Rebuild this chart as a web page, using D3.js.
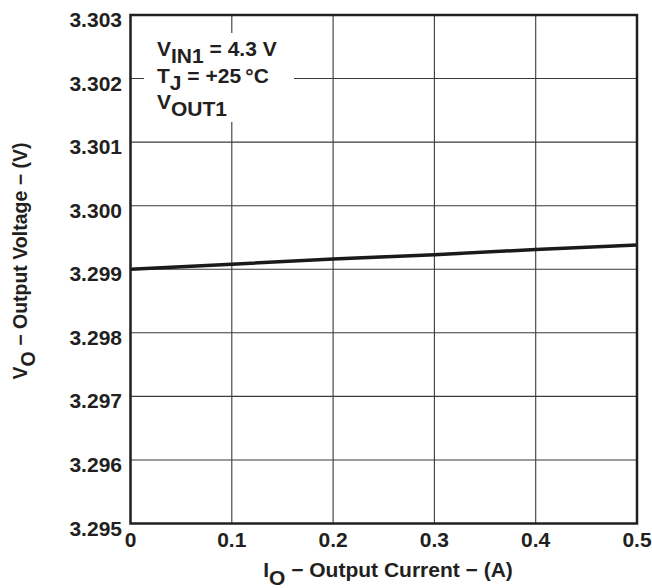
<!DOCTYPE html>
<html><head><meta charset="utf-8">
<script src="https://cdn.jsdelivr.net/npm/d3@7"></script>
<style>
html,body{margin:0;padding:0;background:#fff;}
svg text{font-family:"Liberation Sans",Arial,Helvetica,sans-serif;font-weight:bold;fill:#231f20;}
</style></head>
<body>
<svg id="chart" width="652" height="588"></svg>
<script>
// Data
const currentA = [0, 0.1, 0.2, 0.3, 0.4, 0.5];
const voltageV = [3.29900, 3.29908, 3.29916, 3.29923, 3.29931, 3.29938];
const xTicks = [0, 0.1, 0.2, 0.3, 0.4, 0.5];
const xTickLabels = ["0", "0.1", "0.2", "0.3", "0.4", "0.5"];
const yTicks = [3.295, 3.296, 3.297, 3.298, 3.299, 3.300, 3.301, 3.302, 3.303];
const yTickLabels = ["3.295","3.296","3.297","3.298","3.299","3.300","3.301","3.302","3.303"];

const svg = d3.select("#chart");
const L = 130.5, R = 637, T = 15, B = 523.5;
const x = d3.scaleLinear().domain([0, 0.5]).range([L, R]);
const y = d3.scaleLinear().domain([3.295, 3.303]).range([B, T]);

// grid
const grid = svg.append("g");
grid.selectAll("line.v").data(xTicks).join("line")
  .attr("x1", d => x(d)).attr("x2", d => x(d))
  .attr("y1", T).attr("y2", B)
  .attr("stroke", "#3a3a3a").attr("stroke-width", 1.1);
grid.selectAll("line.h").data(yTicks).join("line")
  .attr("y1", d => y(d)).attr("y2", d => y(d))
  .attr("x1", L).attr("x2", R)
  .attr("stroke", "#3a3a3a").attr("stroke-width", 1.1);

// annotation mask
svg.append("rect").attr("x", 144).attr("y", 33).attr("width", 150).attr("height", 89).attr("fill", "#fff");

// data line
svg.append("path")
  .datum(currentA.map((c, i) => [c, voltageV[i]]))
  .attr("d", d3.line().x(d => x(d[0])).y(d => y(d[1])))
  .attr("fill", "none").attr("stroke", "#1a1a1a").attr("stroke-width", 3.5);

// frame
svg.append("rect").attr("x", L).attr("y", T).attr("width", R - L).attr("height", B - T)
  .attr("fill", "none").attr("stroke", "#231f20").attr("stroke-width", 2.5);

// tick labels
svg.append("g").selectAll("text").data(yTicks).join("text")
  .attr("x", 122).attr("y", d => y(d) + 12)
  .attr("text-anchor", "end").attr("font-size", 21)
  .text((d, i) => yTickLabels[i]);
svg.append("g").selectAll("text").data(xTicks).join("text")
  .attr("x", d => x(d)).attr("y", 547)
  .attr("text-anchor", "middle").attr("font-size", 21)
  .text((d, i) => xTickLabels[i]);

// x title
const xt = svg.append("text").attr("x", 388).attr("y", 577).attr("text-anchor", "middle").attr("font-size", 21);
xt.append("tspan").text("I");
xt.append("tspan").attr("dy", 8).text("O");
xt.append("tspan").attr("dy", -8).text(" \u2212 Output Current \u2212 (A)");

// y title
const yt = svg.append("text").attr("transform", "translate(27,261) rotate(-90)").attr("text-anchor", "middle").attr("font-size", 19.5);
yt.append("tspan").text("V");
yt.append("tspan").attr("dy", 8).text("O");
yt.append("tspan").attr("dy", -8).text(" \u2212 Output Voltage \u2212 (V)");

// annotation
const ann = svg.append("g").attr("font-size", 21);
const a1 = ann.append("text").attr("x", 157).attr("y", 56);
a1.append("tspan").text("V");
a1.append("tspan").attr("dy", 7).text("IN1");
a1.append("tspan").attr("dy", -7).text(" = 4.3 V");
const a2 = ann.append("text").attr("x", 157).attr("y", 83);
a2.append("tspan").text("T");
a2.append("tspan").attr("dy", 7).text("J");
a2.append("tspan").attr("dy", -7).text(" = +25\u2009\u00B0C");
const a3 = ann.append("text").attr("x", 157).attr("y", 109);
a3.append("tspan").text("V");
a3.append("tspan").attr("dy", 7).text("OUT1");
</script>
</body></html>
